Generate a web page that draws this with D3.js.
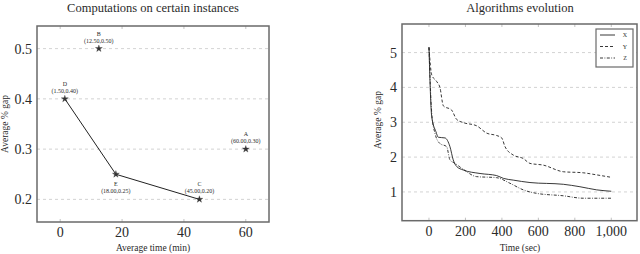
<!DOCTYPE html>
<html>
<head>
<meta charset="utf-8">
<script src="https://cdn.jsdelivr.net/npm/d3@7"></script>
<style>
  body { margin: 0; background: #fff; }
  text { font-family: "Liberation Serif", "DejaVu Serif", serif; fill: #2a2a2a; }
</style>
</head>
<body>
<div id="chart"></div>
<script>
// left chart: points
var ptNames = ["A", "B", "C", "D", "E"];
var ptTime = [60, 12.5, 45, 1.5, 18];
var ptGap = [0.30, 0.50, 0.20, 0.40, 0.25];
var pathOrder = ["D", "E", "C"];
var leftXTicks = [0, 20, 40, 60];
var leftYTicks = [0.2, 0.3, 0.4, 0.5];

// right chart: series
var seriesNames = ["X", "Y", "Z"];
var timeX = [0, 15, 38, 51, 88, 115, 133, 152, 188, 280, 371, 408, 462, 554, 737, 828, 920, 1000];
var gapX = [5.15, 3.16, 2.73, 2.57, 2.55, 2.3, 1.92, 1.73, 1.63, 1.53, 1.47, 1.39, 1.34, 1.27, 1.22, 1.15, 1.06, 1.02];
var timeY = [0, 15, 42, 60, 79, 124, 152, 188, 261, 316, 371, 399, 417, 462, 517, 554, 627, 737, 846, 920, 1000];
var gapY = [5.15, 4.36, 4.17, 4.0, 3.47, 3.35, 3.08, 2.99, 2.9, 2.69, 2.62, 2.55, 2.3, 2.06, 1.96, 1.82, 1.77, 1.58, 1.55, 1.49, 1.42];
var timeZ = [0, 15, 33, 60, 97, 115, 143, 188, 261, 371, 444, 517, 590, 737, 846, 1000];
var gapZ = [5.15, 3.26, 2.68, 2.39, 2.3, 1.92, 1.82, 1.65, 1.44, 1.41, 1.25, 1.06, 0.96, 0.89, 0.82, 0.82];
var rightXTicks = [0, 200, 400, 600, 800, 1000];
var rightYTicks = [1, 2, 3, 4, 5];

var svg = d3.select("#chart").append("svg")
    .attr("width", 640).attr("height", 254);

var frameColor = "#6a6a6a";

function drawFrame(g, x, y, xTicks, yTicks, fmtX, fmtY) {
    var x0 = x.range()[0], x1 = x.range()[1];
    var y0 = y.range()[0], y1 = y.range()[1];
    // dashed grid
    g.selectAll(".grid").data(yTicks).enter().append("line")
        .attr("x1", x0).attr("x2", x1)
        .attr("y1", function (d) { return y(d); })
        .attr("y2", function (d) { return y(d); })
        .attr("stroke", "#c8c8c8").attr("stroke-width", 0.8)
        .attr("stroke-dasharray", "3,3");
    // ticks inside, all sides
    xTicks.forEach(function (t) {
        g.append("line").attr("x1", x(t)).attr("x2", x(t)).attr("y1", y0).attr("y2", y0 - 3)
            .attr("stroke", "#999").attr("stroke-width", 0.6);
        g.append("line").attr("x1", x(t)).attr("x2", x(t)).attr("y1", y1).attr("y2", y1 + 3)
            .attr("stroke", "#999").attr("stroke-width", 0.6);
        g.append("text").attr("x", x(t)).attr("y", y0 + 15)
            .attr("text-anchor", "middle").style("font-size", "14px").text(fmtX(t));
    });
    yTicks.forEach(function (t) {
        g.append("text").attr("x", x0 - 5).attr("y", y(t) + 5)
            .attr("text-anchor", "end").style("font-size", "14px").text(fmtY(t));
    });
    g.append("rect").attr("x", x0).attr("y", y1)
        .attr("width", x1 - x0).attr("height", y0 - y1)
        .attr("fill", "none").attr("stroke", frameColor).attr("stroke-width", 1.5);
}

// ---------- left chart ----------
var gl = svg.append("g");
var xl = d3.scaleLinear().domain([-7.5, 67.5]).range([37, 269]);
var yl = d3.scaleLinear().domain([0.155, 0.545]).range([222, 26]);

drawFrame(gl, xl, yl, leftXTicks, leftYTicks, d3.format("d"), d3.format(".1f"));

var pts = ptNames.map(function (n, i) { return { name: n, t: ptTime[i], g: ptGap[i] }; });
var pathPts = pathOrder.map(function (n) { return pts.find(function (p) { return p.name === n; }); });

gl.append("path").datum(pathPts)
    .attr("fill", "none").attr("stroke", "#222").attr("stroke-width", 1)
    .attr("d", d3.line().x(function (d) { return xl(d.t); }).y(function (d) { return yl(d.g); }));

var star = d3.symbol().type(d3.symbolStar).size(15);
gl.selectAll(".pt").data(pts).enter().append("path")
    .attr("transform", function (d) { return "translate(" + xl(d.t) + "," + yl(d.g) + ")"; })
    .attr("d", star).attr("fill", "#333").attr("stroke", "#333").attr("stroke-width", 0.3);

var fmt2 = d3.format(".2f");
pts.forEach(function (p) {
    var below = p.name === "E";
    var px = xl(p.t), py = yl(p.g);
    var yName = below ? py + 12 : py - 13;
    var yCoord = below ? py + 19 : py - 6;
    gl.append("text").attr("x", px).attr("y", yName).attr("text-anchor", "middle")
        .style("font-size", "6px").text(p.name);
    gl.append("text").attr("x", px).attr("y", yCoord).attr("text-anchor", "middle")
        .style("font-size", "6px").text("(" + fmt2(p.t) + "," + fmt2(p.g) + ")");
});

gl.append("text").attr("x", 153).attr("y", 12).attr("text-anchor", "middle")
    .style("font-size", "12.5px").text("Computations on certain instances");
gl.append("text").attr("x", 153).attr("y", 251).attr("text-anchor", "middle")
    .style("font-size", "9.5px").text("Average time (min)");
gl.append("text").attr("transform", "translate(8,124) rotate(-90)")
    .attr("text-anchor", "middle").style("font-size", "9.5px").text("Average % gap");

// ---------- right chart ----------
var gr = svg.append("g");
var xr = d3.scaleLinear().domain([-148, 1141]).range([402, 637]);
var yr = d3.scaleLinear().domain([0.175, 5.82]).range([220.7, 24]);

drawFrame(gr, xr, yr, rightXTicks, rightYTicks, d3.format(",d"), d3.format("d"));

var series = [
    { name: seriesNames[0], t: timeX, v: gapX, dash: null },
    { name: seriesNames[1], t: timeY, v: gapY, dash: "3,2" },
    { name: seriesNames[2], t: timeZ, v: gapZ, dash: "3,1.5,0.8,1.5" }
];
var lineR = d3.line()
    .x(function (d) { return xr(d[0]); })
    .y(function (d) { return yr(d[1]); })
    .curve(d3.curveMonotoneX);

series.forEach(function (s) {
    gr.append("path").datum(d3.zip(s.t, s.v))
        .attr("fill", "none").attr("stroke", "#222").attr("stroke-width", 0.9)
        .attr("stroke-dasharray", s.dash)
        .attr("d", lineR);
});

// legend
var lg = gr.append("g").attr("transform", "translate(596,29)");
lg.append("rect").attr("width", 37).attr("height", 38)
    .attr("fill", "#fff").attr("stroke", frameColor).attr("stroke-width", 1.2);
series.forEach(function (s, i) {
    var yy = 6 + i * 11.5;
    lg.append("line").attr("x1", 4).attr("x2", 19).attr("y1", yy).attr("y2", yy)
        .attr("stroke", "#222").attr("stroke-width", 0.9).attr("stroke-dasharray", s.dash);
    lg.append("text").attr("x", 29).attr("y", yy + 2).attr("text-anchor", "middle")
        .style("font-size", "6px").text(s.name);
});

gr.append("text").attr("x", 520).attr("y", 12).attr("text-anchor", "middle")
    .style("font-size", "12.5px").text("Algorithms evolution");
gr.append("text").attr("x", 520).attr("y", 251).attr("text-anchor", "middle")
    .style("font-size", "9.5px").text("Time (sec)");
gr.append("text").attr("transform", "translate(381,120) rotate(-90)")
    .attr("text-anchor", "middle").style("font-size", "9.5px").text("Average % gap");
</script>
</body>
</html>
